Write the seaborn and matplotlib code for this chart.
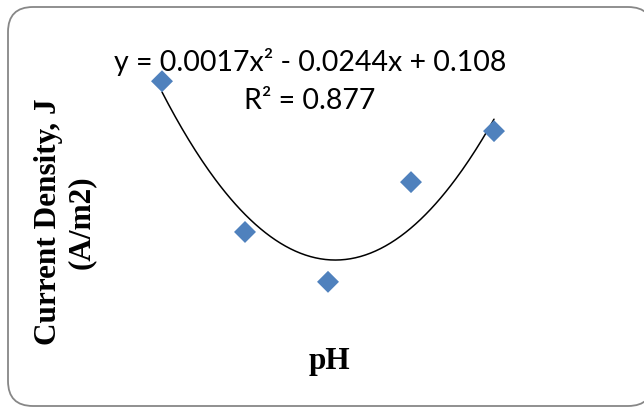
import numpy as np
import pandas as pd
import matplotlib
matplotlib.use("Agg")
import matplotlib.pyplot as plt
from matplotlib.patches import FancyBboxPatch
import seaborn as sns

# Data
ph = [3, 5, 7, 9, 11]
current_density = [0.0520, 0.0254, 0.0166, 0.0342, 0.0432]
trend_coeffs = [0.0017, -0.0244, 0.108]   # y = a x^2 + b x + c
equation_label = "y = 0.0017x² - 0.0244x + 0.108"
r2_label = "R² = 0.877"
x_label = "pH"
y_label = "Current Density, J\n(A/m2)"

sns.set_theme(style="white")
plt.rcParams['font.family'] = ['Lato', 'DejaVu Sans']

fig = plt.figure(figsize=(6.44, 4.10), dpi=100)
fig.patch.set_facecolor("white")

# background / border axes in pixel coordinates
bg = fig.add_axes([0, 0, 1, 1], zorder=0)
bg.set_xlim(0, 644)
bg.set_ylim(410, 0)
bg.axis("off")
bg.add_patch(FancyBboxPatch((8, 8), 645, 399,
                            boxstyle="round,pad=0,rounding_size=25",
                            facecolor="white", edgecolor="#878787", linewidth=1.3))

ax = fig.add_axes([120.5 / 644, 1 - 376.9 / 410, 415 / 644, 340 / 410], zorder=1)
ax.patch.set_alpha(0)
df = pd.DataFrame({"pH": ph, "J": current_density})
xs = np.linspace(min(ph), max(ph), 200)
ys = np.polyval(trend_coeffs, xs)
sns.lineplot(x=xs, y=ys, ax=ax, color="black", linewidth=1.1)
sns.scatterplot(data=df, x="pH", y="J", ax=ax, marker="D", s=125,
                color="#4F81BD", edgecolor="none", zorder=3)
ax.set_xlim(2, 12)
ax.set_ylim(0, 0.06)
ax.axis("off")

bg.text(310, 62, equation_label, ha="center", va="center", fontsize=20.5,
        family=["Lato", "DejaVu Sans"], color="black")
bg.text(310, 101, r2_label, ha="center", va="center", fontsize=20.5,
        family=["Lato", "DejaVu Sans"], color="black")
bg.text(329, 362, x_label, ha="center", va="center", fontsize=22.5,
        family=["Liberation Serif"], fontweight="bold", color="black")
bg.text(65, 222, y_label, ha="center", va="center", rotation=90, fontsize=22.5,
        family=["Liberation Serif"], fontweight="bold", color="black",
        linespacing=1.15, multialignment="center")

fig.savefig("out.png", dpi=100)
